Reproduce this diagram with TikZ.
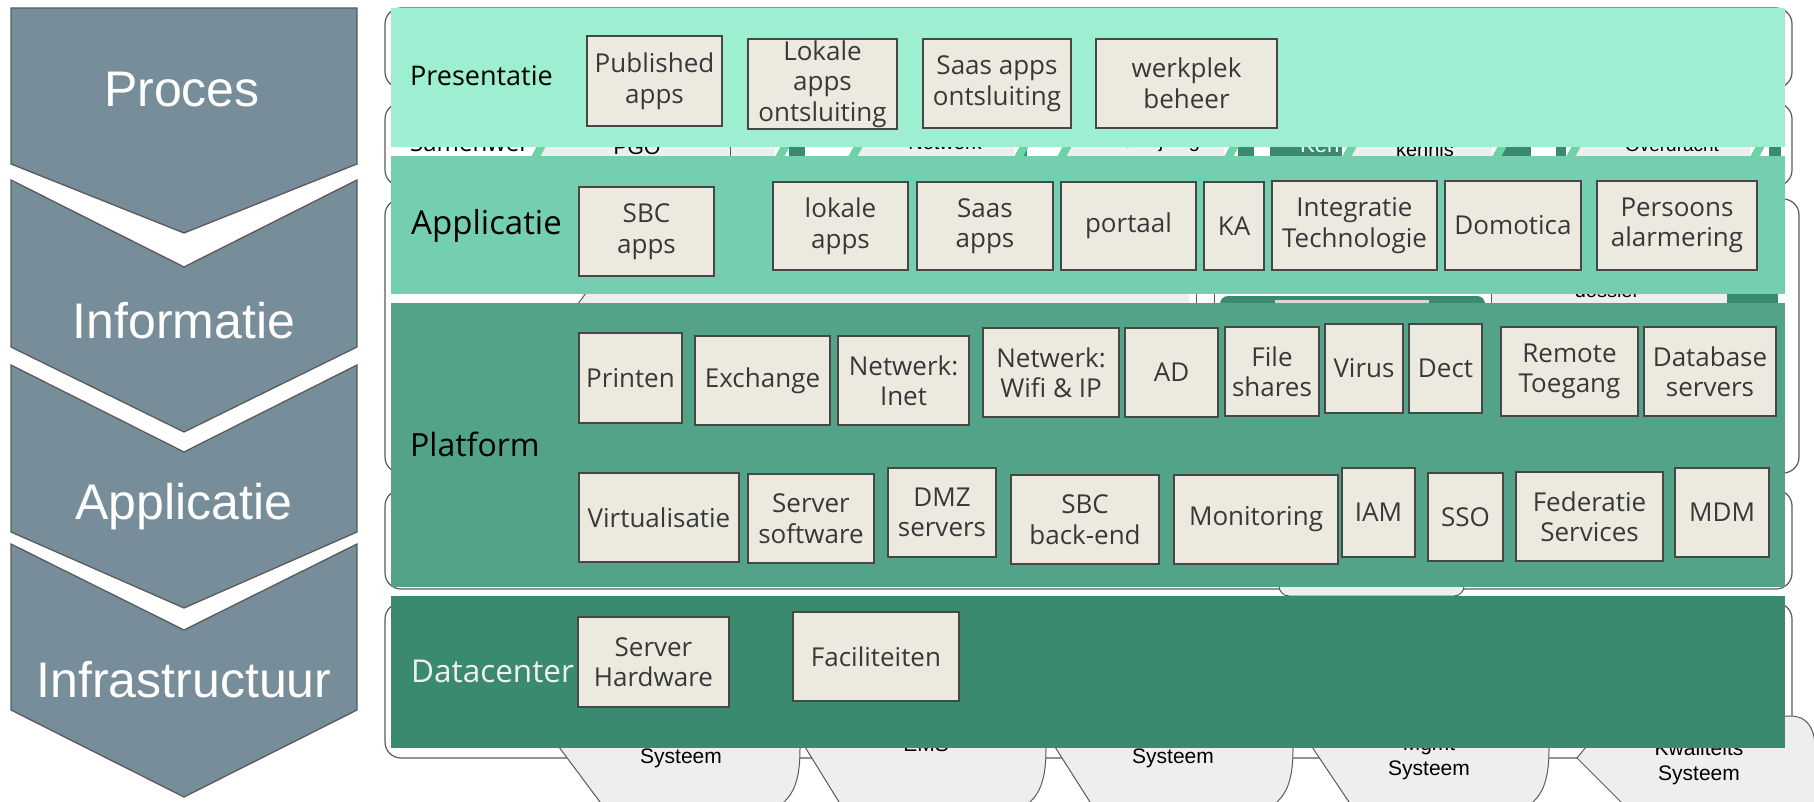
\documentclass[tikz,border=0pt]{standalone}
\usepackage{fontspec}
\setmainfont{Open Sans}
\newfontfamily\arialfont{Liberation Sans}
\definecolor{chevfill}{HTML}{778E9A}
\definecolor{chevline}{HTML}{5A5A5A}
\definecolor{presgreen}{HTML}{9EEFD2}
\definecolor{appgreen}{HTML}{74CFB1}
\definecolor{platgreen}{HTML}{52A387}
\definecolor{dcgreen}{HTML}{3A8A70}
\definecolor{slantgreen}{HTML}{6ED3A4}
\definecolor{boxfill}{HTML}{ECEADF}
\definecolor{boxline}{HTML}{474747}
\definecolor{bggrey}{HTML}{EEEEEE}

\begin{document}
\begin{tikzpicture}[x=1pt,y=-1pt,
    box/.style={draw=boxline,fill=boxfill,line width=1.6pt,inner sep=0pt,align=center,
        text=black!78,font=\fontsize{26}{30.5}\selectfont},
    layer/.style={anchor=base west,inner sep=0pt},
    chev/.style={fill=chevfill,draw=chevline,line width=1.3pt},
    chevtext/.style={anchor=base,inner sep=0pt,text=white,font=\arialfont\fontsize{50}{60}\selectfont},
    row/.style={draw=chevline,line width=1.2pt,fill=white,rounded corners=16pt},
    oldshape/.style={draw=chevline,line width=1pt,fill=bggrey},
    oldtext/.style={anchor=base,inner sep=0pt,align=center,font=\arialfont\fontsize{21}{25}\selectfont}]
    \useasboundingbox (0,0) rectangle (1814,802);
    \clip (0,0) rectangle (1814,802);

    % chevrons links
    \draw[chev] (11,8) -- (357,8) -- (357,164) -- (184,233) -- (11,164) -- cycle;
    \foreach \t/\n/\b/\p in {180/267/347/432, 365/452/532/608, 544/630/710/797}
        \draw[chev] (11,\t) -- (184,\n) -- (357,\t) -- (357,\b) -- (184,\p) -- (11,\b) -- cycle;
    \node[chevtext] (proces) at (182,107) {Proces};
    \node[chevtext] (informatie) at (184,338) {Informatie};
    \node[chevtext] (applicatie) at (184,519) {Applicatie};
    \node[chevtext] (infra) at (184,697) {Infrastructuur};

    % oude plaat eronder
    \foreach \ya/\yb/\xr in {8/88/1792, 103/186/1792, 199/473/1799, 490/589/1792, 603/758/1792}
        \draw[row] (385,\ya) rectangle (\xr,\yb);
    \foreach \xa/\xb/\c in {541/775/bggrey, 789/805/dcgreen, 853/1014/bggrey, 1023/1027/dcgreen,
        1065/1224/bggrey, 1238/1254/dcgreen, 1270/1342/dcgreen, 1344/1492/bggrey,
        1501/1531/dcgreen, 1556/1566/dcgreen, 1575/1750/bggrey, 1769/1781/dcgreen}
        \fill[\c] (\xa,146) rectangle (\xb,157);
    \foreach \xa in {531,775,848,1014,1057,1224,1342,1492,1566,1750}
        \fill[slantgreen] (\xa,157) -- (\xa+6,146) -- (\xa+15,146) -- (\xa+9,157) -- cycle;
    \draw[chevline] (730,146) -- (730,157);
    \node[anchor=base west,inner sep=0pt,font=\fontsize{24}{24}\selectfont] (samenwer) at (410,152) {Samenwer};
    \node[oldtext] (pgo) at (637,155) {PGO};
    \node[oldtext,font=\arialfont\fontsize{20}{24}\selectfont] (netwerk) at (945,150) {Netwerk};
    \node[oldtext,font=\arialfont\fontsize{20}{24}\selectfont] (verwijzing) at (1155,148) {Verwijzing};
    \node[oldtext,anchor=base west,text=white,font=\arialfont\fontsize{22}{24}\selectfont] (ken) at (1300,153) {Ken};
    \node[oldtext,font=\arialfont\fontsize{20}{24}\selectfont] (kennis) at (1425,157) {kennis};
    \node[oldtext,font=\arialfont\fontsize{19}{24}\selectfont] (overdracht) at (1672,152) {Overdracht};

    \fill[bggrey] (582,293) rectangle (1189,304);
    \draw[chevline,line width=1pt] (578,304) -- (586,293);
    \draw[chevline] (1196,293) -- (1196,304) (1214,293) -- (1214,304);
    \fill[dcgreen,rounded corners=8pt] (1220,296) rectangle (1485,320);
    \fill[bggrey!80!gray] (1275,300) rectangle (1429,310);
    \fill[bggrey] (1491,293) rectangle (1727,304);
    \draw[chevline] (1491,293) -- (1491,304);
    \fill[dcgreen] (1727,293) rectangle (1778,304);
    \node[oldtext,font=\arialfont\fontsize{20}{24}\selectfont] (dossier) at (1607,297) {dossier};
    \draw[oldshape,rounded corners=10pt] (1279,560) rectangle (1464,596);

    \foreach \a/\b/\r in {559/600/800, 805/839/1046, 1055/1090/1293, 1312/1349/1549}
        \draw[oldshape] ({\b+(\b-\a)*15/55},817) -- ({\a-(\b-\a)*50/55},697) -- ({\a-(\b-\a)*50/55+40},640)
            -- (\r-30,640) .. controls (\r,640) and (\r,660) .. (\r,690) -- (\r,748)
            .. controls (\r,790) and (\r-10,806) .. (\r-45,817) -- cycle;
    \draw[oldshape] (1634,815) -- (1577,758) -- (1611,716) -- (1790,716)
        .. controls (1812,716) and (1816,735) .. (1816,760) -- (1816,815) -- cycle;
    \node[oldtext] (systeema) at (681,763) {Systeem};
    \node[oldtext] (ems) at (926,751) {EMS};
    \node[oldtext] (systeemb) at (1173,763) {Systeem};
    \node[oldtext,anchor=center] (mgmt) at (1429,758) {Mgmt\\Systeem};
    \node[oldtext,anchor=center] (kwaliteit) at (1699,763) {Kwaliteits\\Systeem};

    % lagen
    \fill[presgreen] (391,8) rectangle (1785,147);
    \fill[appgreen] (391,156) rectangle (1785,294);
    \fill[platgreen] (391,303) rectangle (1785,587);
    \fill[dcgreen] (391,596) rectangle (1785,748);
    \node[layer,font=\fontsize{27}{30}\selectfont] (presentatie) at (410,86) {Presentatie};
    \node[layer,font=\fontsize{33}{36}\selectfont] (applic) at (411,235) {Applicatie};
    \node[layer,font=\fontsize{32}{34}\selectfont] (platform) at (410,456) {Platform};
    \node[layer,text=white!94!black,font=\fontsize{31.5}{34}\selectfont] (datacenter) at (411,682) {Datacenter};

    % blokken
    \foreach \n/\xa/\ya/\xb/\yb/\t in {
        pub/587/36/722/126/{Published\\apps},
        lokont/748/39/897/129/{Lokale\\apps\\ontsluiting},
        saasont/923/39/1071/128/{Saas apps\\ontsluiting},
        werkplek/1096/39/1277/128/{werkplek\\beheer},
        sbcapps/579/187/714/276/{SBC\\apps},
        lokapps/773/182/908/270/{lokale\\apps},
        saasapps/917/182/1053/270/{Saas\\apps},
        portaal/1061/182/1196/270/{portaal},
        ka/1204/182/1264/270/{KA},
        integr/1272/181/1437/270/{Integratie\\Technologie},
        domotica/1445/181/1581/270/{Domotica},
        alarm/1597/181/1757/270/{Persoons\\alarmering},
        printen/579/333/682/423/{Printen},
        exchange/695/336/830/425/{Exchange},
        inet/838/336/969/425/{Netwerk:\\Inet},
        wifi/983/328/1119/417/{Netwerk:\\Wifi \& IP},
        ad/1125/328/1218/417/{AD},
        files/1225/327/1319/416/{File\\shares},
        virus/1325/324/1403/413/{Virus},
        dect/1409/324/1482/413/{Dect},
        remote/1501/327/1638/416/{Remote\\Toegang},
        dbserv/1644/327/1776/416/{Database\\servers},
        virt/579/473/739/562/{Virtualisatie},
        srvsoft/748/474/874/563/{Server\\software},
        dmz/888/468/996/557/{DMZ\\servers},
        sbcback/1011/475/1159/564/{SBC\\back-end},
        monit/1174/475/1338/564/{Monitoring},
        iam/1342/468/1415/557/{IAM},
        sso/1428/473/1503/561/{SSO},
        feder/1516/472/1663/561/{Federatie\\Services},
        mdm/1675/468/1769/557/{MDM},
        srvhw/578/617/729/707/{Server\\Hardware},
        facil/793/612/959/701/{Faciliteiten}}
        \node[box,minimum width={\xb-\xa},minimum height={\yb-\ya}] (\n) at ({(\xa+\xb)/2},{(\ya+\yb)/2}) {\t};
\end{tikzpicture}
\end{document}
